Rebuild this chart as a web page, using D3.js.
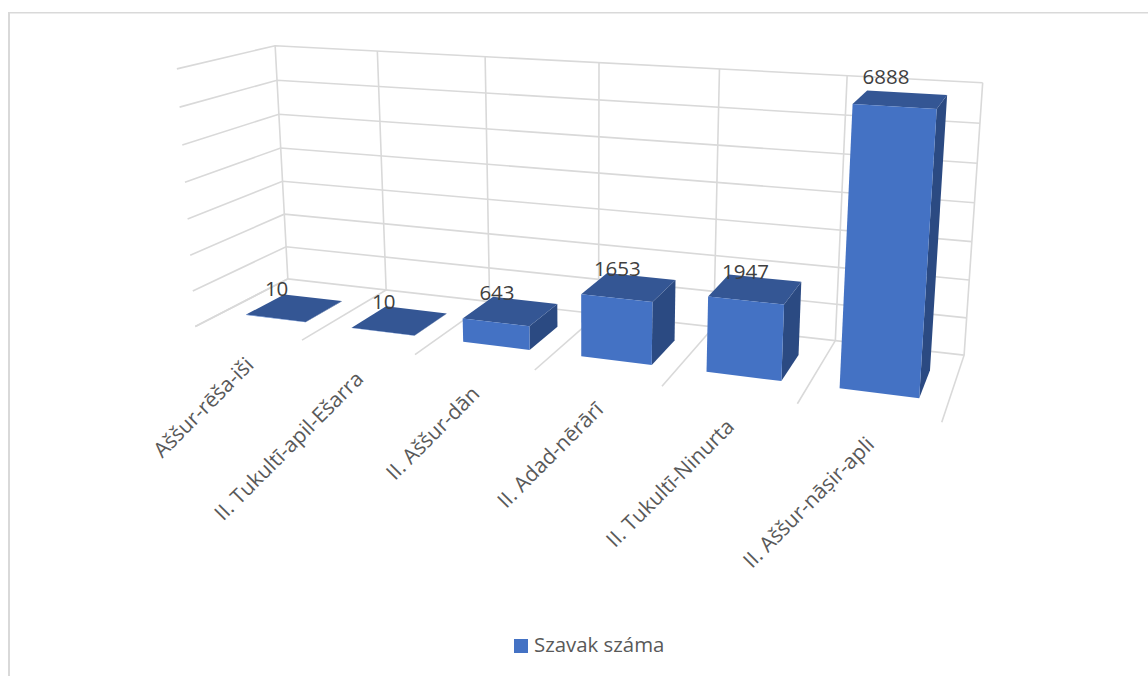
<!DOCTYPE html>
<html><head><meta charset="utf-8">
<script src="https://cdn.jsdelivr.net/npm/d3@7"></script>
<style>html,body{margin:0;padding:0;background:#fff}svg{display:block}text{font-family:"Open Sans",sans-serif}</style>
</head><body><svg id="c" width="1148" height="676"></svg>
<script>
const categories = ["Aššur-rēša-iši","II. Tukultī-apil-Ešarra","II. Aššur-dān","II. Adad-nērārī","II. Tukultī-Ninurta","II. Aššur-nāṣir-apli"];
const values = [10,10,643,1653,1947,6888];
const seriesName = "Szavak száma";
const valueMax = 7000;
const tickStep = 1000;

// Camera calibration: normalised box coordinates [u,v,w] -> screen [x,y]
const calib = [
 [0,0,0,195.5,326],[1/6,0,0,302,340],[2/6,0,0,415,354],[3/6,0,0,535,370],[4/6,0,0,662,387],[5/6,0,0,797,403],[1,0,0,942,423],
 [0,0,1,288,278],[1/6,0,1,386,290],[2/6,0,1,489,302],[3/6,0,1,598,314],[4/6,0,1,715,327],[5/6,0,1,836,342],[1,0,1,964,355],
 [0,1,1,275,45.7],[1/6,1,1,377,51],[2/6,1,1,485,57],[3/6,1,1,599,62],[4/6,1,1,720,70],[5/6,1,1,847,75],[1,1,1,983,83],
 [0,1/7,0,193,291],[0,2/7,0,190,256],[0,3/7,0,187,219],[0,4/7,0,185,182],[0,5/7,0,182,145],[0,6/7,0,180,107],[0,1,0,177,69],
 [0,1/7,1,286,247],[0,2/7,1,284,214],[0,3/7,1,283,182],[0,4/7,1,281,148],[0,5/7,1,279,114],[0,6/7,1,277,80],
 [1,1/7,1,966,317],[1,2/7,1,969,279],[1,3/7,1,972,242],[1,4/7,1,974,203],[1,5/7,1,977,163],[1,6/7,1,980,123]
];
function fitCamera(pts){
  const n=11, M=Array.from({length:n},()=>new Array(n+1).fill(0));
  const add=(r,b)=>{for(let i=0;i<n;i++){for(let j=0;j<n;j++)M[i][j]+=r[i]*r[j];M[i][n]+=r[i]*b;}};
  pts.forEach(([u,v,w,x,y])=>{
    add([u,v,w,1,0,0,0,0,-x*u,-x*v,-x*w],x);
    add([0,0,0,0,u,v,w,1,-y*u,-y*v,-y*w],y);
  });
  for(let c=0;c<n;c++){
    let p=c;for(let r=c+1;r<n;r++)if(Math.abs(M[r][c])>Math.abs(M[p][c]))p=r;
    [M[c],M[p]]=[M[p],M[c]];
    for(let r=0;r<n;r++){if(r===c)continue;const f=M[r][c]/M[c][c];for(let k=c;k<=n;k++)M[r][k]-=f*M[c][k];}
  }
  return M.map((row,i)=>row[n]/row[i]);
}
const h=fitCamera(calib);
const project=(u,v,w)=>{const d=h[8]*u+h[9]*v+h[10]*w+1;return [(h[0]*u+h[1]*v+h[2]*w+h[3])/d,(h[4]*u+h[5]*v+h[6]*w+h[7])/d];};

const uScale=d3.scaleBand().domain(categories).range([0,1]).paddingInner(0.43).paddingOuter(0.215).align(0.523);
const vScale=d3.scaleLinear().domain([0,valueMax]).range([0,1]);
const slot=d3.scaleLinear().domain([0,categories.length]).range([0,1]);
const depthFront=0.28, depthBack=0.70;
const ticks=d3.range(0,valueMax+1,tickStep);
const svg=d3.select("#c");
const line=d3.line();

// chart border: top and left edges only
const frame=svg.append("g").attr("fill","none").attr("stroke","#d9d9d9");
frame.append("path").attr("stroke-width",1.5).attr("d",line([[8,12.75],[1148,12.75]]));
frame.append("path").attr("stroke-width",2).attr("d",line([[9,12],[9,676]]));

const grid=svg.append("g").attr("fill","none").attr("stroke","#d9d9d9").attr("stroke-width",1.6);
grid.selectAll(".h").data(ticks).join("path").attr("d",t=>{const v=vScale(t);return line([project(0,v,0),project(0,v,1),project(1,v,1)]);});
grid.selectAll(".v").data(d3.range(categories.length+1)).join("path").attr("d",i=>{const u=slot(i);return line([project(u,1,1),project(u,0,1),project(u,0,0)]);});

const rows=categories.map((c,i)=>({c,val:values[i]}));
const bars=svg.append("g").selectAll("g").data(rows).join("g");
const quad=pts=>line(pts)+"Z";
bars.append("path").attr("fill","#2b4a82").attr("d",d=>{const u=uScale(d.c)+uScale.bandwidth(),v=vScale(d.val);
  return quad([project(u,0,depthFront),project(u,0,depthBack),project(u,v,depthBack),project(u,v,depthFront)]);});
bars.append("path").attr("fill","#345694").attr("d",d=>{const a=uScale(d.c),b=a+uScale.bandwidth(),v=vScale(d.val);
  return quad([project(a,v,depthFront),project(b,v,depthFront),project(b,v,depthBack),project(a,v,depthBack)]);});
bars.append("path").attr("fill","#4472c4").attr("d",d=>{const a=uScale(d.c),b=a+uScale.bandwidth(),v=vScale(d.val);
  return quad([project(a,0,depthFront),project(b,0,depthFront),project(b,v,depthFront),project(a,v,depthFront)]);});

// data labels
const mid=d=>uScale(d.c)+uScale.bandwidth()/2;
svg.append("g").selectAll("text").data(rows).join("text")
  .attr("text-anchor","middle").attr("font-size",20.5).attr("fill","#404040")
  .attr("x",d=>project(mid(d),vScale(d.val)*0.4,depthFront)[0]+1)
  .attr("y",d=>project(mid(d),vScale(d.val),depthFront)[1]-22)
  .text(d=>d.val);

// category labels
svg.append("g").selectAll("text").data(categories).join("text")
  .attr("text-anchor","end").attr("font-size",21).attr("fill","#595959")
  .attr("transform",(c,i)=>{const p=project(slot(i+0.5),0,0);return `translate(${p[0]+7},${p[1]+33}) rotate(-45)`;})
  .text(c=>c);

// legend
svg.append("rect").attr("x",514).attr("y",639).attr("width",14).attr("height",14).attr("fill","#4472c4");
svg.append("text").attr("x",534).attr("y",652).attr("font-size",20.4).attr("fill","#595959").text(seriesName);
</script></body></html>
